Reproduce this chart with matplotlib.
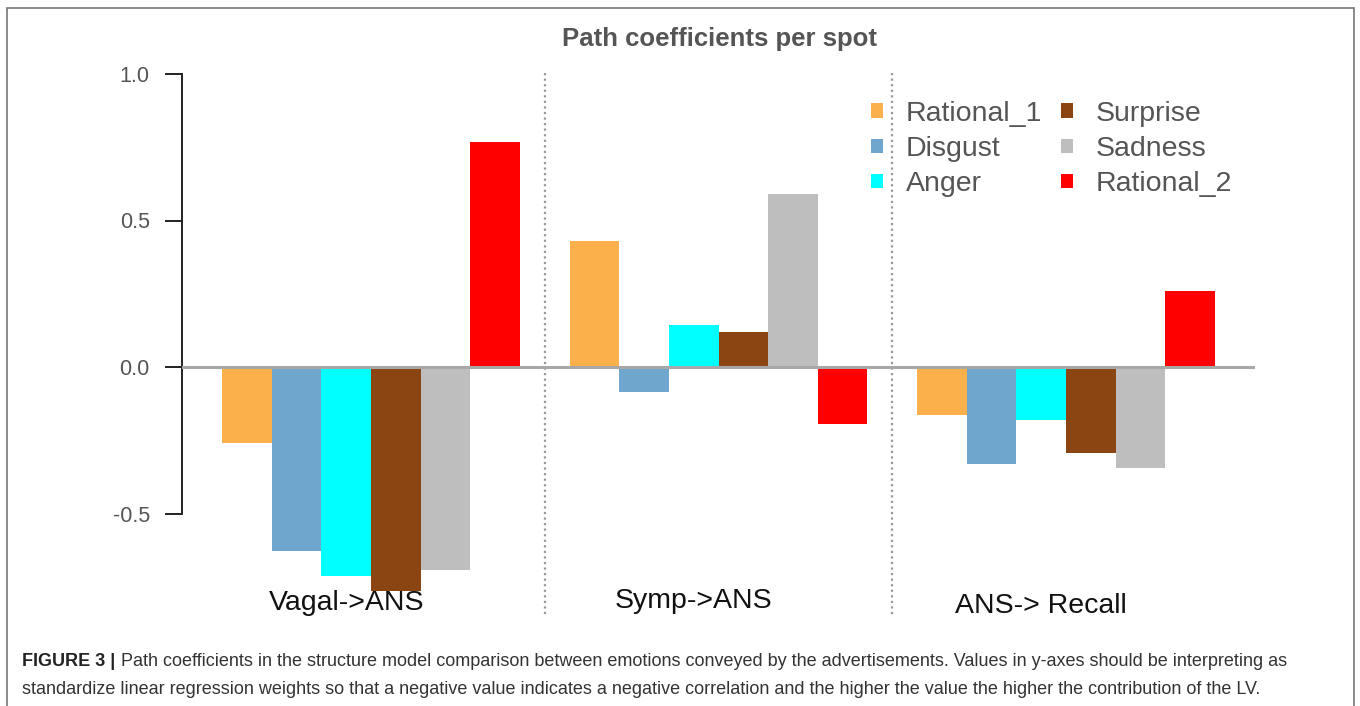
import matplotlib
matplotlib.use('Agg')
import matplotlib.pyplot as plt
from matplotlib.patches import Rectangle, Patch

plt.rcParams['font.family'] = ['Liberation Sans', 'DejaVu Sans']

# data
groups = ['Vagal->ANS', 'Symp->ANS', 'ANS-> Recall']
emotions = ['Rational_1', 'Disgust', 'Anger', 'Surprise', 'Sadness', 'Rational_2']
rational_1 = [-0.258, 0.429, -0.164]
disgust = [-0.629, -0.087, -0.332]
anger = [-0.712, 0.145, -0.182]
surprise = [-0.766, 0.120, -0.295]
sadness = [-0.693, 0.592, -0.346]
rational_2 = [0.769, -0.195, 0.258]
yticks = [-0.5, 0.0, 0.5, 1.0]
ytick_labels = ['-0.5', '0.0', '0.5', '1.0']

colors = ['#FBB04C', '#6FA6CD', '#00FFFF', '#8B4513', '#BEBEBE', '#FF0000']
series = [rational_1, disgust, anger, surprise, sadness, rational_2]

W, H = 1360, 706
fig = plt.figure(figsize=(W / 100, H / 100), dpi=100)

# axes placed in pixel terms (left 182, right 1255, top 60, bottom 620)
ax = fig.add_axes([182 / W, 1 - 620 / H, (1255 - 182) / W, 560 / H])
ax.set_xlim(0.19, 21.81)
ax.set_ylim(-(620 - 367) / 293, 1 + (74 - 60) / 293)

n = len(emotions)
for i, (vals, col) in enumerate(zip(series, colors)):
    xs = [1 + g * (n + 1) + i for g in range(len(groups))]
    ax.bar(xs, vals, width=1.0, align='edge', color=col, label=emotions[i], zorder=2)

ax.axhline(0, color='#A8A8A8', lw=2.2, zorder=3)

# dotted separators between groups
for g in range(1, len(groups)):
    xsep = g * (n + 1) + 0.5
    ax.plot([xsep, xsep], [1.003, -0.846], color='#999999', lw=1.6,
            linestyle=(0, (1, 1.5)), clip_on=False, zorder=1)

# group labels under the bars
label_y = [-0.829, -0.823, -0.840]
for g, name in enumerate(groups):
    ax.text(g * (n + 1) + 3.5, label_y[g], name, ha='center', va='baseline',
            fontsize=20.5, color='#111111')

for s in ['top', 'right', 'bottom']:
    ax.spines[s].set_visible(False)
ax.spines['left'].set_bounds(-0.5, 1.0)
ax.spines['left'].set_linewidth(1.4)
ax.spines['left'].set_color('#222222')
ax.set_xticks([])
ax.set_yticks(yticks)
ax.set_yticklabels(ytick_labels)
ax.tick_params(axis='y', length=12.2, width=1.4, color='#222222', pad=11,
               labelsize=15.5, labelcolor='#555555')

handles = [Patch(facecolor=c, edgecolor='none') for c in colors]
leg = ax.legend(handles, emotions, ncol=2, frameon=False, loc='upper left',
                bbox_to_anchor=(871 / W, 1 - 101 / H), bbox_transform=fig.transFigure,
                borderaxespad=0, borderpad=0, fontsize=20.5, handlelength=0.42,
                handleheight=0.42, handletextpad=0.8, columnspacing=0.65,
                labelspacing=0.32)
for t in leg.get_texts():
    t.set_color('#555555')

fig.text(720 / W, 1 - 39 / H, 'Path coefficients per spot', ha='center', va='center',
         fontsize=18.5, fontweight='bold', color='#555555')

# caption
cap1 = ('Path coefficients in the structure model comparison between emotions conveyed by the '
        'advertisements. Values in y-axes should be interpreting as')
cap2 = ('standardize linear regression weights so that a negative value indicates a negative '
        'correlation and the higher the value the higher the contribution of the LV.')
r = fig.canvas.get_renderer()
t1 = fig.text(22 / W, 1 - 662 / H, 'FIGURE 3 |', fontsize=13, fontweight='bold',
              color='#222222', va='center')
bb = t1.get_window_extent(r)
fig.text((bb.x1 + 6) / W, 1 - 662 / H, cap1, fontsize=13, color='#333333', va='center')
fig.text(22 / W, 1 - 690 / H, cap2, fontsize=13, color='#333333', va='center')

# outer frame
fig.patches.append(Rectangle((7 / W, -0.01), (1354 - 7) / W, (H - 8) / H + 0.01,
                             transform=fig.transFigure, fill=False,
                             edgecolor='#777777', lw=1.2))

plt.savefig('out.png', dpi=100)
